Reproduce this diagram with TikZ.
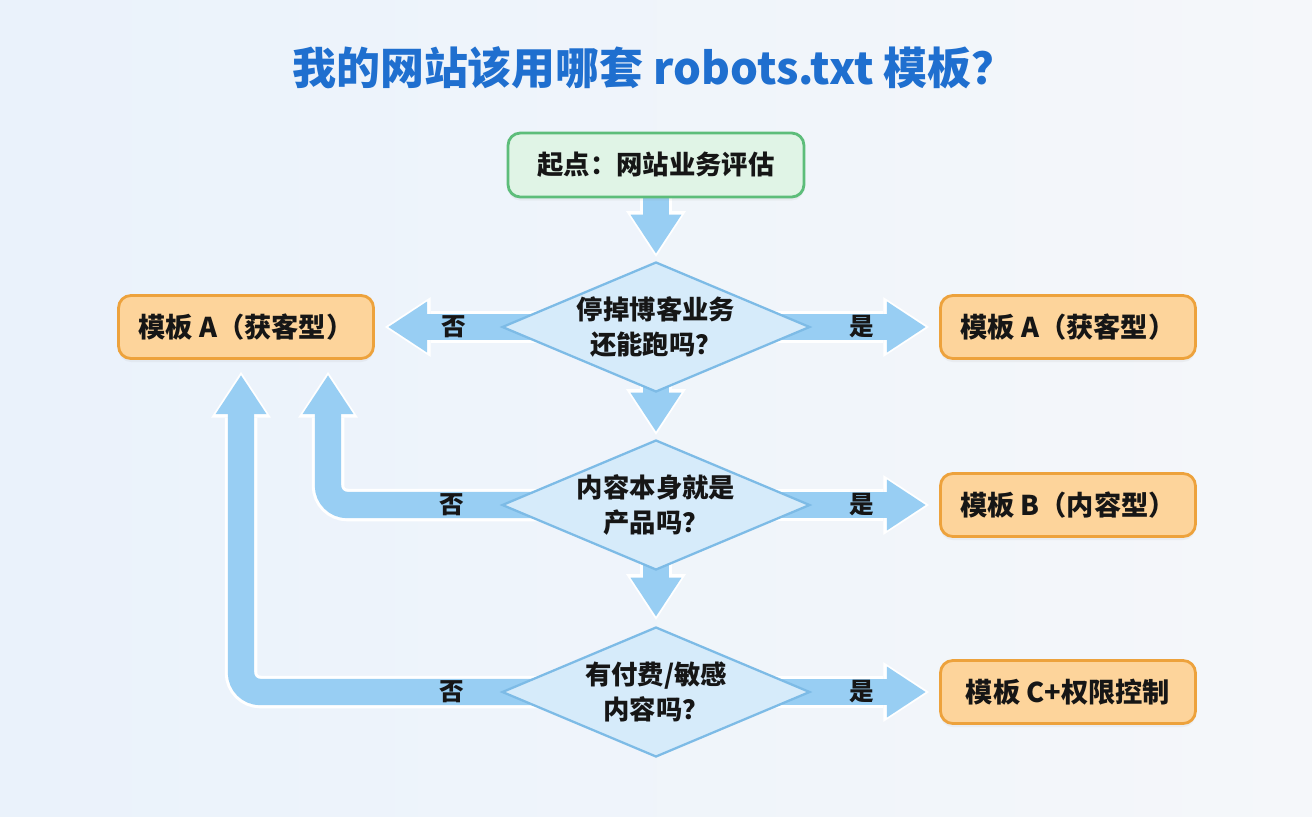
\documentclass[tikz,border=0pt]{standalone}
\usepackage{fontspec}
\setmainfont{Noto Sans CJK SC}
\usetikzlibrary{arrows.meta, positioning, shapes.geometric, calc, backgrounds, shadows}

\definecolor{titleblue}{HTML}{1F6FCF}
\definecolor{inkblack}{HTML}{161616}
\definecolor{startgreen}{HTML}{5DBD7A}
\definecolor{startfill}{HTML}{E0F4E6}
\definecolor{tplorange}{HTML}{EDA23C}
\definecolor{tplfill}{HTML}{FDD49B}
\definecolor{askborder}{HTML}{7DBBE6}
\definecolor{askfill}{HTML}{D6EBFA}
\definecolor{flowblue}{HTML}{98CEF3}
\definecolor{bgleft}{HTML}{EAF2FB}
\definecolor{bgright}{HTML}{F5F7FA}

\begin{document}
\begin{tikzpicture}[
    x=0.02cm, y=-0.02cm,
    every node/.style={font=\bfseries\fontsize{15}{19.5}\selectfont, text=inkblack},
    startbox/.style={draw=startgreen, fill=startfill, line width=1.6pt, rounded corners=7pt, align=center,
        minimum width=5.92cm, minimum height=1.28cm, drop shadow={opacity=0.08, shadow xshift=0pt, shadow yshift=-2pt}},
    tplbox/.style={draw=tplorange, fill=tplfill, line width=1.6pt, rounded corners=7pt, align=center,
        font=\bfseries\fontsize{15.5}{19.5}\selectfont,
        minimum width=5.1cm, minimum height=1.26cm, drop shadow={opacity=0.08, shadow xshift=0pt, shadow yshift=-2pt}},
    ask/.style={diamond, aspect=2.37, draw=askborder, fill=askfill, line width=1.3pt, inner sep=0pt, align=center,
        minimum width=6.16cm, minimum height=2.6cm},
    fatarrow/.style={draw=flowblue, line width=15pt, rounded corners=11pt, shorten >=2pt,
        -{Triangle[line width=0pt, length=22pt, width=29pt]},
        preaction={draw=white, line width=18.5pt, shorten >=0pt, -{Triangle[line width=0pt, length=26pt, width=34pt]}}},
    lbl/.style={font=\bfseries\fontsize{14}{16}\selectfont}
]
\useasboundingbox (0,0) rectangle (1312,816);

\node[font=\bfseries\fontsize{25}{30}\selectfont, text=titleblue] (title) at (654,68) {我的网站该用哪套 robots.txt 模板？};

\node[startbox] (start) at (656,165) {起点：网站业务评估};
\node[ask] (blog) at (656,327) {停掉博客业务\\还能跑吗？};
\node[ask] (product) at (656,505) {内容本身就是\\产品吗？};
\node[ask] (paid) at (656,692) {有付费/敏感\\内容吗？};

\node[tplbox, left=2.52cm of blog] (tplAleft) {模板 A（获客型）};
\node[tplbox, right=2.56cm of blog] (tplAright) {模板 A（获客型）};
\node[tplbox, right=2.56cm of product] (tplB) {模板 B（内容型）};
\node[tplbox, right=2.56cm of paid] (tplC) {模板 C+权限控制};

\begin{pgfonlayer}{background}
\fill[left color=bgleft, right color=bgright] (0,0) rectangle (1312,816);
% main column
\draw[fatarrow] (start.south) -- ($(blog.north)+(0,-4)$);
\draw[fatarrow] (blog.center) -- ($(product.north)+(0,-4)$);
\draw[fatarrow] (product.center) -- ($(paid.north)+(0,-6)$);
% yes branches
\draw[fatarrow] (blog.center) -- node[lbl, pos=0.754] {是} ($(tplAright.west)+(-10,0)$);
\draw[fatarrow] (product.center) -- node[lbl, pos=0.754] {是} ($(tplB.west)+(-10,0)$);
\draw[fatarrow] (paid.center) -- node[lbl, pos=0.754] {是} ($(tplC.west)+(-10,0)$);
% no branches
\draw[fatarrow] (blog.center) -- node[lbl, pos=0.747] {否} ($(tplAleft.east)+(10,0)$);
\draw[fatarrow] (product.center) -| node[lbl, pos=0.311] {否} ($(tplAleft.south)+(82,12)$);
\draw[fatarrow] (paid.center) -| node[lbl, pos=0.246] {否} ($(tplAleft.south)+(-5,12)$);
\end{pgfonlayer}
\end{tikzpicture}
\end{document}
